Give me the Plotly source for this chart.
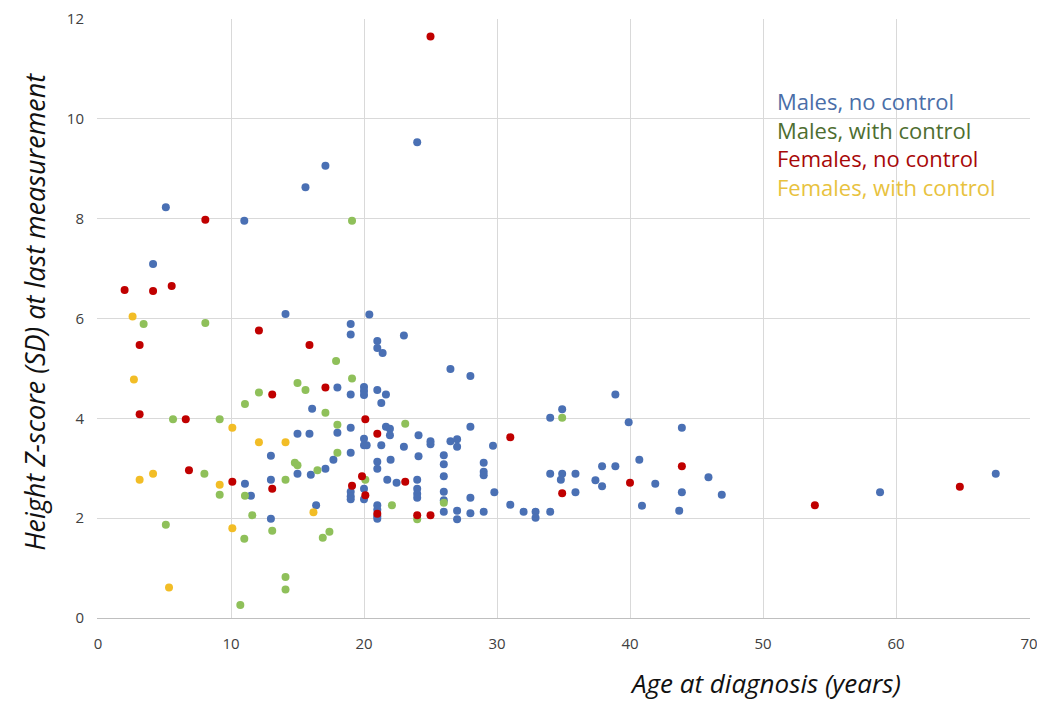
import plotly.graph_objects as go

# Males, no control
mnc_x = [5.1, 4.14, 11.0, 14.1, 15.6, 17.1, 24.0,
         20.4, 19.0, 19.0, 21.0, 21.0, 21.4, 23.0, 26.5, 28.0,
         18.0, 19.0, 20.0, 20.0, 20.0, 21.0, 21.65, 21.3, 16.1,
         19.0, 21.65, 21.95, 28.0, 15.0, 15.9, 18.0, 21.95, 24.1,
         20.0, 20.0, 20.2, 21.3, 23.0, 25.0, 25.0, 26.5, 27.0, 27.0,
         19.0, 17.7, 17.1, 16.0, 15.0, 22.0, 21.0, 21.0, 24.1, 26.0, 26.0,
         29.0, 29.0, 29.0, 26.0, 21.75, 22.45, 24.0,
         19.0, 19.0, 19.0, 20.0, 20.0, 24.0, 24.0, 24.0, 26.0, 26.0, 28.0,
         21.0, 21.0, 21.0, 21.0, 16.4, 26.0, 27.0, 27.0, 28.0, 29.0,
         38.9, 34.9, 34.0, 39.9, 43.9, 29.7, 40.7, 37.9, 38.9, 34.0, 34.9, 35.9,
         34.8, 37.4, 37.9, 41.9, 29.8, 35.9, 43.9, 31.0, 40.9, 32.0, 32.9, 34.0,
         32.9, 43.7, 45.9, 46.9, 58.8, 67.5,
         13.0, 11.05, 13.0, 11.5, 13.0]
mnc_y = [8.23, 7.09, 7.96, 6.09, 8.63, 9.06, 9.53,
         6.08, 5.89, 5.68, 5.55, 5.41, 5.31, 5.66, 4.99, 4.85,
         4.62, 4.48, 4.63, 4.55, 4.47, 4.57, 4.48, 4.31, 4.19,
         3.81, 3.83, 3.79, 3.83, 3.69, 3.69, 3.71, 3.66, 3.66,
         3.59, 3.46, 3.46, 3.46, 3.43, 3.54, 3.48, 3.54, 3.58, 3.43,
         3.31, 3.17, 2.99, 2.87, 2.89, 3.17, 3.13, 2.99, 3.24, 3.26, 3.08,
         3.11, 2.93, 2.86, 2.84, 2.77, 2.71, 2.77,
         2.53, 2.44, 2.38, 2.59, 2.38, 2.59, 2.49, 2.41, 2.53, 2.36, 2.41,
         2.26, 2.17, 2.04, 1.99, 2.26, 2.13, 2.15, 1.98, 2.10, 2.13,
         4.48, 4.18, 4.01, 3.92, 3.81, 3.45, 3.17, 3.04, 3.04, 2.89, 2.89, 2.89,
         2.77, 2.76, 2.64, 2.69, 2.52, 2.52, 2.52, 2.27, 2.25, 2.13, 2.13, 2.13,
         2.01, 2.15, 2.82, 2.47, 2.52, 2.89,
         3.25, 2.69, 2.77, 2.45, 1.99]

# Males, with control
mwc_x = [19.1, 17.9, 19.1, 15.0, 15.6, 17.1, 18.0, 23.1, 18.0, 14.8, 15.0, 16.5,
         20.1, 26.0, 22.1, 24.0, 17.4, 16.9, 34.9,
         3.43, 8.07, 12.1, 11.05, 5.64, 9.15, 8.0, 14.1, 9.15, 11.05, 11.6, 5.1,
         11.0, 13.1, 14.1, 14.1, 10.7]
mwc_y = [7.96, 5.15, 4.80, 4.71, 4.57, 4.11, 3.87, 3.89, 3.31, 3.11, 3.06, 2.96,
         2.77, 2.31, 2.26, 1.98, 1.73, 1.61, 4.01,
         5.89, 5.91, 4.52, 4.29, 3.98, 3.98, 2.89, 2.77, 2.47, 2.45, 2.06, 1.87,
         1.59, 1.75, 0.82, 0.57, 0.26]

# Females, no control
fnc_x = [25.0, 8.07, 2.0, 4.14, 5.54, 12.1, 3.13, 15.9, 17.1, 13.1, 3.13, 6.6,
         20.1, 21.0, 6.84, 10.1, 13.1, 19.85, 23.1, 19.1, 20.1, 21.0, 24.0, 25.0,
         31.0, 43.9, 40.0, 34.9, 53.9, 64.8]
fnc_y = [11.65, 7.98, 6.57, 6.55, 6.65, 5.76, 5.47, 5.47, 4.62, 4.48, 4.08, 3.98,
         3.98, 3.69, 2.96, 2.73, 2.59, 2.84, 2.73, 2.65, 2.46, 2.09, 2.06, 2.06,
         3.62, 3.04, 2.71, 2.50, 2.26, 2.63]

# Females, with control
fwc_x = [2.6, 2.7, 10.1, 12.1, 14.1, 4.14, 3.13, 9.15, 10.1, 5.34, 16.2]
fwc_y = [6.04, 4.78, 3.81, 3.52, 3.52, 2.89, 2.77, 2.67, 1.80, 0.61, 2.12]

series_names = ["Males, no control", "Males, with control",
                "Females, no control", "Females, with control"]
marker_colors = ["#4a70b4", "#8fc05a", "#c00000", "#f2bd26"]
text_colors = ["#4a6ea8", "#4e6e30", "#a80808", "#e8c23e"]

x_ticks = [0, 10, 20, 30, 40, 50, 60, 70]
y_ticks = [0, 2, 4, 6, 8, 10, 12]

L, R, T, B = 98, 1029, 19, 618
W, H = R - L, B - T

fig = go.Figure()
for xs, ys, name, col in zip([mnc_x, mwc_x, fnc_x, fwc_x],
                             [mnc_y, mwc_y, fnc_y, fwc_y],
                             series_names, marker_colors):
    fig.add_trace(go.Scatter(x=xs, y=ys, mode="markers", name=name,
                             marker=dict(size=8, color=col, line=dict(width=0))))

# text legend as one multi-line annotation (coloured lines)
legend_text = "<br>".join(
    f"<span style='color:{c}'>{n}</span>" for n, c in zip(series_names, text_colors))
fig.add_annotation(text=legend_text, x=(775 - L) / W, y=(B - 144) / H,
                   xref="paper", yref="paper", align="left",
                   showarrow=False, xanchor="left", yanchor="middle",
                   font=dict(family="Open Sans", size=22))

fig.update_layout(
    width=1037, height=704,
    margin=dict(l=L - 1, r=1037 - R - 1, t=T, b=704 - B, autoexpand=False),
    paper_bgcolor="white", plot_bgcolor="white",
    showlegend=False,
    font=dict(family="Open Sans", size=15, color="#404040"),
    xaxis=dict(range=[-0.075, 70.075], tickvals=x_ticks, showgrid=True, gridcolor="#d9d9d9",
               gridwidth=1, zeroline=False, showline=True, linecolor="#bfbfbf",
               ticks="", ticklabelstandoff=12, ticklabeloverflow="allow",
               automargin=False, tickfont=dict(size=15, color="#404040")),
    yaxis=dict(range=[0, 12.001], tickvals=y_ticks, showgrid=True, gridcolor="#d9d9d9",
               gridwidth=1, zeroline=False, showline=False, ticks="",
               ticklabelstandoff=12, automargin=False,
               tickfont=dict(size=15, color="#404040")),
)

fig.add_annotation(text="Age at diagnosis (years)", xref="paper", yref="paper",
                   x=(765 - L) / W, y=-(703 - B) / H,
                   showarrow=False, xanchor="center", yanchor="bottom",
                   font=dict(family="Open Sans", size=26, color="#111111", style="italic"))
fig.add_annotation(text="Height Z-score (SD) at last measurement", xref="paper", yref="paper",
                   x=-(L - 35) / W, y=(B - 312) / H,
                   textangle=-90, showarrow=False, xanchor="center", yanchor="middle",
                   font=dict(family="Open Sans", size=27, color="#111111", style="italic"))

fig.write_html("out.html")
